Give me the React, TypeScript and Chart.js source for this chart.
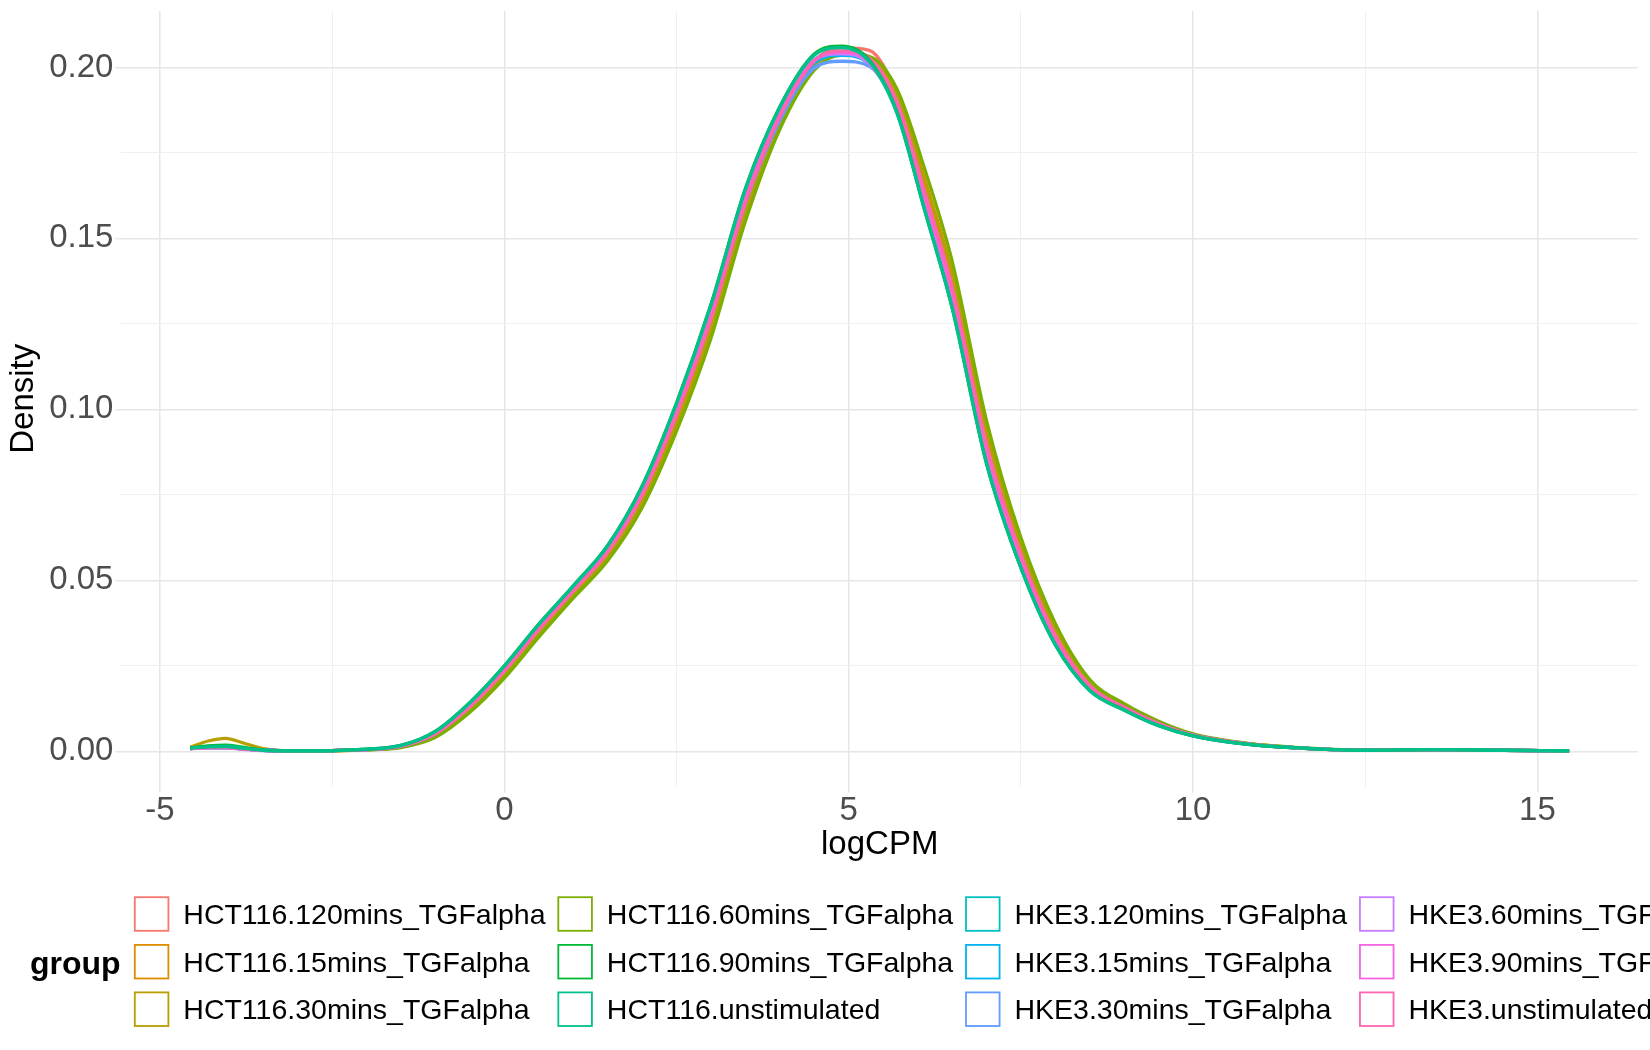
import { useEffect, useRef } from 'react';
import { Chart, registerables } from 'chart.js';

Chart.register(...registerables);

const logCPM = [-4.56, -4.3, -4.05, -3.8, -3.5, -3.0, -2.5, -2.0, -1.5, -1.0, -0.5, 0, 0.5, 1.0, 1.5, 2.0, 2.5, 3.0, 3.5, 4.0, 4.5, 4.9, 5.3, 5.7, 6.1, 6.5, 7.0, 7.5, 8.0, 8.5, 9.0, 9.5, 10, 10.8, 11.7, 12.5, 13.5, 14.5, 15.46];

const hct116_120 = [0.0008, 0.0011, 0.0011, 0.0007, 0.0003, 0.0001, 0.0002, 0.0005, 0.0014, 0.0049, 0.0127, 0.0229, 0.0351, 0.0463, 0.0577, 0.0740, 0.0972, 0.1251, 0.1592, 0.1850, 0.2018, 0.2058, 0.2050, 0.1920, 0.1655, 0.1376, 0.0913, 0.0587, 0.0347, 0.0196, 0.0131, 0.0082, 0.0048, 0.0021, 0.0008, 0.0003, 0.0005, 0.0003, 0.0001];
const hct116_15 = [0.0009, 0.0014, 0.0015, 0.0009, 0.0003, 0.0001, 0.0002, 0.0004, 0.0013, 0.0045, 0.0121, 0.0222, 0.0344, 0.0456, 0.0568, 0.0728, 0.0957, 0.1233, 0.1574, 0.1835, 0.2006, 0.2045, 0.2032, 0.1920, 0.1675, 0.1401, 0.0937, 0.0603, 0.0358, 0.0202, 0.0135, 0.0085, 0.0049, 0.0022, 0.0008, 0.0003, 0.0005, 0.0003, 0.0001];
const hct116_30 = [0.0012, 0.0030, 0.0038, 0.0025, 0.0008, 0.0001, 0.0002, 0.0005, 0.0013, 0.0046, 0.0123, 0.0225, 0.0346, 0.0459, 0.0571, 0.0732, 0.0962, 0.1239, 0.1580, 0.1840, 0.2008, 0.2040, 0.2030, 0.1915, 0.1667, 0.1392, 0.0929, 0.0597, 0.0355, 0.0200, 0.0134, 0.0084, 0.0049, 0.0022, 0.0008, 0.0003, 0.0005, 0.0003, 0.0001];
const hct116_60 = [0.0008, 0.0011, 0.0011, 0.0007, 0.0003, 0.0001, 0.0002, 0.0004, 0.0011, 0.0041, 0.0114, 0.0214, 0.0334, 0.0448, 0.0557, 0.0712, 0.0936, 0.1208, 0.1550, 0.1819, 0.1992, 0.2036, 0.2031, 0.1937, 0.1705, 0.1435, 0.0968, 0.0625, 0.0374, 0.0210, 0.0139, 0.0088, 0.0051, 0.0023, 0.0009, 0.0003, 0.0005, 0.0003, 0.0001];
const hct116_90 = [0.0010, 0.0016, 0.0018, 0.0012, 0.0004, 0.0001, 0.0002, 0.0006, 0.0017, 0.0059, 0.0143, 0.0250, 0.0372, 0.0484, 0.0602, 0.0776, 0.1019, 0.1307, 0.1646, 0.1885, 0.2039, 0.2062, 0.2021, 0.1870, 0.1585, 0.1299, 0.0843, 0.0537, 0.0312, 0.0178, 0.0121, 0.0075, 0.0045, 0.0020, 0.0008, 0.0003, 0.0005, 0.0003, 0.0001];
const hct116_unstim = [0.0009, 0.0013, 0.0014, 0.0009, 0.0003, 0.0001, 0.0002, 0.0006, 0.0017, 0.0058, 0.0142, 0.0249, 0.0371, 0.0483, 0.0601, 0.0774, 0.1017, 0.1305, 0.1644, 0.1884, 0.2036, 0.2058, 0.2017, 0.1866, 0.1584, 0.1298, 0.0842, 0.0536, 0.0311, 0.0177, 0.0120, 0.0075, 0.0045, 0.0020, 0.0008, 0.0003, 0.0005, 0.0003, 0.0001];
const hke3_120 = [0.0009, 0.0012, 0.0012, 0.0008, 0.0003, 0.0001, 0.0002, 0.0005, 0.0016, 0.0055, 0.0137, 0.0243, 0.0365, 0.0477, 0.0593, 0.0764, 0.1004, 0.1289, 0.1628, 0.1872, 0.2022, 0.2045, 0.2016, 0.1881, 0.1607, 0.1324, 0.0867, 0.0553, 0.0323, 0.0184, 0.0125, 0.0078, 0.0046, 0.0021, 0.0008, 0.0003, 0.0005, 0.0003, 0.0001];
const hke3_15 = [0.0008, 0.0011, 0.0011, 0.0007, 0.0003, 0.0001, 0.0002, 0.0005, 0.0015, 0.0054, 0.0136, 0.0241, 0.0363, 0.0475, 0.0591, 0.0760, 0.0998, 0.1282, 0.1620, 0.1862, 0.2012, 0.2035, 0.2010, 0.1881, 0.1612, 0.1332, 0.0874, 0.0559, 0.0327, 0.0186, 0.0126, 0.0078, 0.0046, 0.0021, 0.0008, 0.0003, 0.0005, 0.0003, 0.0001];
const hke3_30 = [0.0008, 0.0010, 0.0010, 0.0006, 0.0002, 0.0001, 0.0002, 0.0005, 0.0015, 0.0052, 0.0132, 0.0236, 0.0358, 0.0470, 0.0585, 0.0752, 0.0988, 0.1268, 0.1603, 0.1845, 0.1998, 0.2018, 0.2003, 0.1882, 0.1622, 0.1345, 0.0888, 0.0570, 0.0335, 0.0190, 0.0128, 0.0080, 0.0047, 0.0021, 0.0008, 0.0003, 0.0005, 0.0003, 0.0001];
const hke3_60 = [0.0008, 0.0011, 0.0011, 0.0007, 0.0003, 0.0001, 0.0002, 0.0005, 0.0017, 0.0056, 0.0139, 0.0245, 0.0367, 0.0479, 0.0596, 0.0768, 0.1009, 0.1295, 0.1634, 0.1874, 0.2022, 0.2040, 0.2010, 0.1874, 0.1600, 0.1316, 0.0859, 0.0548, 0.0319, 0.0182, 0.0124, 0.0077, 0.0045, 0.0020, 0.0008, 0.0003, 0.0005, 0.0003, 0.0001];
const hke3_90 = [0.0008, 0.0011, 0.0011, 0.0007, 0.0003, 0.0001, 0.0002, 0.0005, 0.0015, 0.0053, 0.0134, 0.0238, 0.0360, 0.0472, 0.0588, 0.0756, 0.0993, 0.1276, 0.1616, 0.1864, 0.2020, 0.2045, 0.2018, 0.1890, 0.1622, 0.1341, 0.0882, 0.0564, 0.0331, 0.0188, 0.0127, 0.0080, 0.0047, 0.0021, 0.0008, 0.0003, 0.0005, 0.0003, 0.0001];
const hke3_unstim = [0.0008, 0.0011, 0.0011, 0.0007, 0.0003, 0.0001, 0.0002, 0.0005, 0.0015, 0.0051, 0.0130, 0.0234, 0.0356, 0.0468, 0.0582, 0.0748, 0.0983, 0.1264, 0.1604, 0.1856, 0.2018, 0.2048, 0.2027, 0.1900, 0.1638, 0.1359, 0.0898, 0.0576, 0.0339, 0.0192, 0.0129, 0.0081, 0.0047, 0.0021, 0.0008, 0.0003, 0.0005, 0.0003, 0.0001];

const groups = [
  'HCT116.120mins_TGFalpha', 'HCT116.15mins_TGFalpha', 'HCT116.30mins_TGFalpha',
  'HCT116.60mins_TGFalpha', 'HCT116.90mins_TGFalpha', 'HCT116.unstimulated',
  'HKE3.120mins_TGFalpha', 'HKE3.15mins_TGFalpha', 'HKE3.30mins_TGFalpha',
  'HKE3.60mins_TGFalpha', 'HKE3.90mins_TGFalpha', 'HKE3.unstimulated',
];
const series = [
  hct116_120, hct116_15, hct116_30, hct116_60, hct116_90, hct116_unstim,
  hke3_120, hke3_15, hke3_30, hke3_60, hke3_90, hke3_unstim,
];
// ggplot default hue palette for 12 groups
const colors = ['#F8766D', '#DE8C00', '#B79F00', '#7CAE00', '#00BA38', '#00C08B', '#00BFC4', '#00B4F0', '#619CFF', '#C77CFF', '#F564E3', '#FF64B0'];

const xTicks = [-5, -2.5, 0, 2.5, 5, 7.5, 10, 12.5, 15];
const xMajor = [-5, 0, 5, 10, 15];
const yTicks = [0, 0.025, 0.05, 0.075, 0.1, 0.125, 0.15, 0.175, 0.2];
const yMajor = [0, 0.05, 0.1, 0.15, 0.2];

const FONT = '"Liberation Sans", Arial, Helvetica, sans-serif';
const MAJOR_GRID = '#e6e6e6';
const MINOR_GRID = '#f0f0f0';

const isIn = (list: number[], v: number) => list.some(m => Math.abs(m - v) < 1e-9);

// ggplot-style legend: title on the left, 3 rows, filled column by column
const groupLegend = {
  id: 'groupLegend',
  afterDraw(chart: Chart) {
    const ctx = chart.ctx;
    const rows = [914, 961.7, 1009.2];
    ctx.save();
    ctx.textAlign = 'left';
    ctx.textBaseline = 'alphabetic';
    ctx.fillStyle = '#000';
    ctx.font = `bold 32px ${FONT}`;
    ctx.fillText('group', 30, 973.5);

    ctx.font = `28.5px ${FONT}`;
    let boxX = 134.8;
    for (let c = 0; c * 3 < groups.length; c++) {
      let maxW = 0;
      for (let r = 0; r < 3; r++) {
        const i = c * 3 + r;
        if (i >= groups.length) break;
        const y = rows[r];
        ctx.strokeStyle = colors[i];
        ctx.lineWidth = 1.8;
        ctx.strokeRect(boxX, y - 16.8, 33.6, 33.6);
        ctx.fillStyle = '#000';
        ctx.fillText(groups[i], boxX + 48.5, y + 10.2);
        maxW = Math.max(maxW, ctx.measureText(groups[i]).width);
      }
      boxX += 48.5 + maxW + 12.8;
    }
    ctx.restore();
  },
};

export default function App() {
  const canvasRef = useRef<HTMLCanvasElement>(null);

  useEffect(() => {
    if (!canvasRef.current) return;

    const datasets = series.map((vals, i) => ({
      label: groups[i],
      data: logCPM.map((x, j) => ({ x, y: vals[j] })),
      borderColor: colors[i],
      backgroundColor: colors[i],
      borderWidth: 3.3,
      pointRadius: 0,
      fill: false,
      cubicInterpolationMode: 'monotone' as const,
      // the two green HCT116 groups sit on top in the reference
      order: i === 5 ? 0 : i === 4 ? 1 : 13 - i,
    }));

    const chart = new Chart(canvasRef.current, {
      type: 'line',
      data: { datasets },
      options: {
        animation: false,
        responsive: true,
        maintainAspectRatio: false,
        layout: { padding: { left: 0, top: 11, right: 12, bottom: 183.5 } },
        plugins: {
          legend: { display: false },
          tooltip: { enabled: false },
        },
        scales: {
          x: {
            type: 'linear',
            min: -5.56,
            max: 16.46,
            afterBuildTicks: (s: any) => { s.ticks = xTicks.map(v => ({ value: v })); },
            afterFit: (s: any) => { s.height = 80; s.paddingLeft = 0; s.paddingRight = 0; },
            border: { display: false },
            grid: {
              color: (c: any) => (isIn(xMajor, c.tick?.value) ? MAJOR_GRID : MINOR_GRID),
              lineWidth: (c: any) => (isIn(xMajor, c.tick?.value) ? 1.5 : 1),
              tickColor: (c: any) => (isIn(xMajor, c.tick?.value) ? MAJOR_GRID : 'rgba(0,0,0,0)'),
              tickLength: 6,
              drawTicks: true,
            },
            ticks: {
              autoSkip: false,
              maxRotation: 0,
              padding: 2,
              color: '#4d4d4d',
              font: { family: FONT, size: 33, lineHeight: 1 },
              callback: (v: any) => (isIn(xMajor, Number(v)) ? String(v) : ''),
            },
            title: {
              display: true,
              text: 'logCPM',
              color: '#000',
              font: { family: FONT, size: 33, lineHeight: 1.2 },
              padding: { top: 0, bottom: 1.7 },
            },
          },
          y: {
            type: 'linear',
            min: -0.0103,
            max: 0.2165,
            afterBuildTicks: (s: any) => { s.ticks = yTicks.map(v => ({ value: v })); },
            afterFit: (s: any) => { s.width = 121.4; s.paddingTop = 0; s.paddingBottom = 0; },
            border: { display: false },
            grid: {
              color: (c: any) => (isIn(yMajor, c.tick?.value) ? MAJOR_GRID : MINOR_GRID),
              lineWidth: (c: any) => (isIn(yMajor, c.tick?.value) ? 1.5 : 1),
              tickColor: (c: any) => (isIn(yMajor, c.tick?.value) ? MAJOR_GRID : 'rgba(0,0,0,0)'),
              tickLength: 6,
              drawTicks: true,
            },
            ticks: {
              autoSkip: false,
              padding: 2,
              color: '#4d4d4d',
              font: { family: FONT, size: 33, lineHeight: 1 },
              callback: (v: any) => (isIn(yMajor, Number(v)) ? Number(v).toFixed(2) : ''),
            },
            title: {
              display: true,
              text: 'Density',
              color: '#000',
              font: { family: FONT, size: 33, lineHeight: 1.2 },
              padding: { top: 4, bottom: 0 },
            },
          },
        },
      },
      plugins: [groupLegend],
    });

    return () => chart.destroy();
  }, []);

  return (
    <div style={{ position: 'fixed', left: 0, top: 0, width: 1650, height: 1050, background: '#fff' }}>
      <canvas ref={canvasRef} />
    </div>
  );
}
